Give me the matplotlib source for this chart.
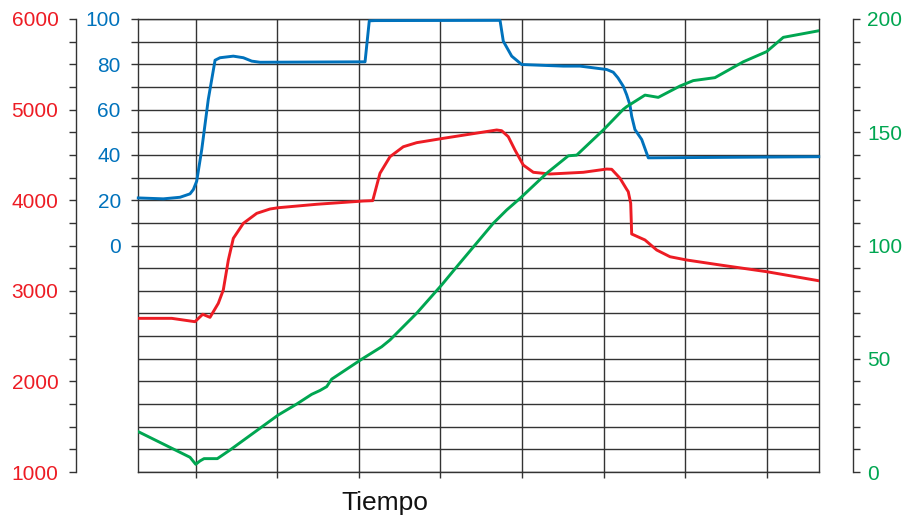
import matplotlib
matplotlib.use("Agg")
import matplotlib.pyplot as plt
import numpy as np

plt.rcParams['font.family'] = ['Liberation Sans', 'DejaVu Sans']

# ---- data ----
blue_x = [0.296, 0.603, 0.808, 0.930, 0.971, 1.012, 1.074, 1.154, 1.237, 1.298, 1.461,
          1.584, 1.687, 1.788, 3.076, 3.128, 3.198, 4.731, 4.771, 4.874, 4.997, 5.507,
          5.711, 6.039, 6.119, 6.177, 6.242, 6.284, 6.324, 6.345, 6.385, 6.468, 6.549, 8.638]
blue_y = [21.0, 20.6, 21.3, 22.8, 24.7, 28.4, 42.4, 64.5, 81.8, 82.9, 83.6,
          82.9, 81.4, 80.9, 81.1, 99.2, 99.3, 99.4, 90.2, 83.6, 79.9, 79.2,
          79.2, 77.7, 76.5, 74.0, 70.3, 66.5, 62.0, 57.1, 51.2, 46.8, 38.7, 39.2]

red_x = [0.296, 0.706, 0.991, 1.086, 1.175, 1.277, 1.338, 1.400, 1.461, 1.584, 1.748,
         1.911, 2.013, 2.483, 3.055, 3.170, 3.259, 3.382, 3.545, 3.709, 4.035, 4.690,
         4.751, 4.832, 4.914, 5.016, 5.139, 5.344, 5.752, 6.039, 6.100, 6.202, 6.284,
         6.303, 6.333, 6.345, 6.508, 6.652, 6.815, 7.019, 7.428, 8.000, 8.638]
red_y = [2696, 2696, 2659, 2741, 2707, 2862, 3009, 3340, 3579, 3745, 3855,
         3903, 3917, 3955, 3991, 3995, 4297, 4480, 4590, 4635, 4683, 4775,
         4767, 4701, 4554, 4388, 4308, 4289, 4308, 4344, 4341, 4242, 4120,
         4094, 3966, 3627, 3561, 3450, 3376, 3340, 3285, 3211, 3111]

green_x = [0.296, 0.930, 1.000, 1.053, 1.102, 1.265, 1.420, 2.013, 2.238, 2.422, 2.524,
           2.606, 2.667, 3.035, 3.280, 3.382, 3.709, 4.016, 4.200, 4.424, 4.648, 4.813,
           4.976, 5.303, 5.568, 5.671, 5.997, 6.242, 6.284, 6.508, 6.671, 6.937, 7.100,
           7.366, 7.713, 8.000, 8.204, 8.638]
green_y = [17.8, 6.5, 3.4, 4.9, 5.9, 5.9, 9.7, 25.2, 30.0, 34.3, 36.0,
           37.7, 41.0, 49.8, 55.3, 58.3, 70.1, 82.6, 90.6, 100.2, 109.8, 115.7,
           120.8, 131.9, 139.6, 139.9, 151.0, 160.1, 161.3, 166.4, 165.4, 170.4, 172.8,
           174.1, 181.1, 185.6, 191.9, 194.8]

x_ticks = [1, 2, 3, 4, 5, 6, 7, 8]
blue_major = [0, 20, 40, 60, 80, 100]
blue_minor = [10, 30, 50, 70, 90]
red_major = [1000, 2000, 3000, 4000, 5000, 6000]
green_major = [0, 50, 100, 150, 200]
x_label = "Tiempo"

RED = '#ED1C24'
BLUE = '#0072BC'
GREEN = '#00A651'
GRID = '#333333'
TFS = 15

fig = plt.figure(figsize=(9.05, 5.20), dpi=100)
ax = fig.add_axes([138.3 / 905, 48 / 520, (818.7 - 138.3) / 905, (472 - 19) / 520])
ax.set_xlim(0.296, 8.638)
ax.set_ylim(-100, 100)

# grid
for yv in np.arange(-100, 101, 10):
    ax.axhline(yv, color=GRID, lw=1.0, zorder=0.5)
ax.set_xticks(x_ticks)
ax.grid(axis='x', color=GRID, lw=1.0, zorder=0.5)
ax.set_axisbelow(True)
ax.tick_params(axis='x', bottom=True, top=False, labelbottom=False,
               direction='out', length=4.3, width=1.0, color=GRID)

# blue axis (host left)
ax.set_yticks(blue_major)
ax.set_yticks(blue_minor, minor=True)
ax.tick_params(axis='y', which='both', left=True, right=False, direction='out',
               length=5.0, width=1.0, color=GRID, labelcolor=BLUE,
               labelsize=TFS, pad=7.6)
for s in ax.spines.values():
    s.set_color(GRID)
    s.set_linewidth(1.0)
ax.plot(blue_x, blue_y, color=BLUE, lw=2.1, solid_joinstyle='round', zorder=3,
        clip_on=False)

# red axis (outer left)
axr = ax.twinx()
axr.set_ylim(1000, 6000)
for k in ['right', 'top', 'bottom']:
    axr.spines[k].set_visible(False)
axr.spines['left'].set_visible(True)
axr.spines['left'].set_position(('outward', 44.9))
axr.spines['left'].set_color(GRID)
axr.spines['left'].set_linewidth(1.0)
axr.yaxis.set_ticks_position('left')
axr.yaxis.set_label_position('left')
axr.set_yticks(red_major)
axr.set_yticks(np.arange(1000, 6001, 250), minor=True)
axr.tick_params(axis='y', which='both', direction='out', length=5.0, width=1.0,
                color=GRID, labelcolor=RED, labelsize=TFS, pad=7.6)
axr.plot(red_x, red_y, color=RED, lw=2.1, solid_joinstyle='round', zorder=3)

# green axis (outer right)
axg = ax.twinx()
axg.set_ylim(0, 200)
for k in ['left', 'top', 'bottom']:
    axg.spines[k].set_visible(False)
axg.spines['right'].set_position(('outward', 24.5))
axg.spines['right'].set_color(GRID)
axg.spines['right'].set_linewidth(1.0)
axg.set_yticks(green_major)
axg.set_yticks(np.arange(0, 201, 10), minor=True)
axg.tick_params(axis='y', which='both', direction='out', length=5.0, width=1.0,
                color=GRID, labelcolor=GREEN, labelsize=TFS, pad=5.6)
axg.plot(green_x, green_y, color=GREEN, lw=2.1, solid_joinstyle='round', zorder=3)

fig.text(385 / 905, 1 - 503 / 520, x_label, ha='center', va='center',
         fontsize=19, color='#111111')

fig.savefig('out.png', dpi=100)
